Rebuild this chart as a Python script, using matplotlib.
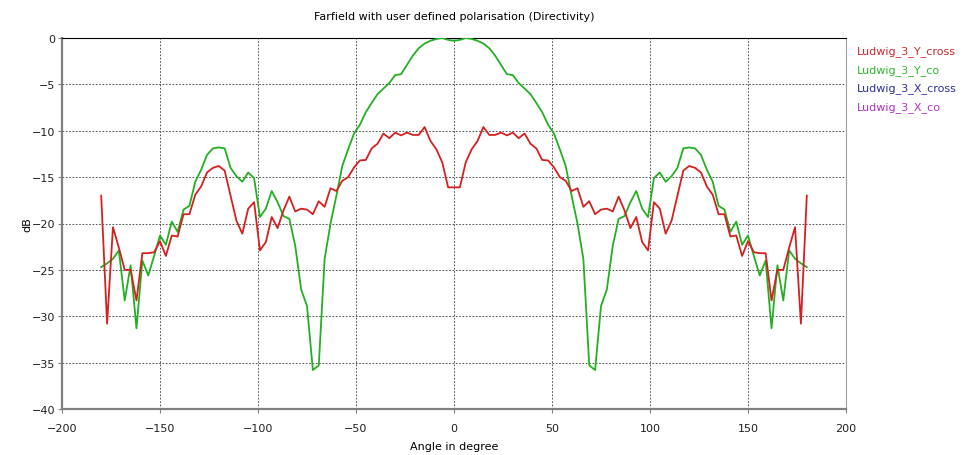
import numpy as np
import matplotlib
matplotlib.use("Agg")
import matplotlib.pyplot as plt

angles = np.arange(-180, 181, 3)

ludwig_3_y_cross = [
    -17.0, -30.8, -20.4, -22.6, -25.0, -25.0, -28.3, -23.2, -23.2, -23.1,
    -21.9, -23.5, -21.3, -21.4, -19.0, -19.0, -16.9, -16.0, -14.5, -14.0,
    -13.8, -14.3, -17.0, -19.7, -21.1, -18.4, -17.7, -22.9, -22.0, -19.3,
    -20.5, -18.6, -17.1, -18.7, -18.4, -18.5, -19.0, -17.6, -18.2, -16.2,
    -16.5, -15.4, -15.0, -13.95, -13.2, -13.15, -11.9, -11.4, -10.3, -10.8,
    -10.2, -10.5, -10.2, -10.45, -10.45, -9.6, -11.1, -12.0, -13.4, -16.1,
    -16.1,
    -16.1, -13.4, -12.0, -11.1, -9.6, -10.45, -10.45, -10.2, -10.5, -10.2,
    -10.8, -10.3, -11.4, -11.9, -13.15, -13.2, -13.95, -15.0, -15.4, -16.5,
    -16.2, -18.2, -17.6, -19.0, -18.5, -18.4, -18.7, -17.1, -18.6, -20.5,
    -19.3, -22.0, -22.9, -17.7, -18.4, -21.1, -19.7, -17.0, -14.3, -13.8,
    -14.0, -14.5, -16.0, -16.9, -19.0, -19.0, -21.4, -21.3, -23.5, -21.9,
    -23.1, -23.2, -23.2, -28.3, -25.0, -25.0, -22.6, -20.4, -30.8, -17.0,
]

ludwig_3_y_co = [
    -24.7, -24.3, -23.8, -22.9, -28.3, -24.5, -31.3, -24.0, -25.6, -23.5,
    -21.3, -22.3, -19.8, -20.9, -18.5, -18.1, -15.5, -14.2, -12.6, -11.9,
    -11.8, -11.9, -14.0, -14.9, -15.5, -14.5, -15.1, -19.3, -18.4, -16.5,
    -17.7, -19.2, -19.5, -22.4, -27.1, -28.9, -35.8, -35.3, -23.8, -20.0,
    -17.0, -13.8, -12.0, -10.3, -9.35, -8.0, -7.0, -6.05, -5.45, -4.85,
    -4.0, -3.9, -2.9, -1.9, -1.1, -0.6, -0.3, -0.1, 0.0, -0.2,
    -0.3,
    -0.2, 0.0, -0.1, -0.3, -0.6, -1.1, -1.9, -2.9, -3.9, -4.0,
    -4.85, -5.45, -6.05, -7.0, -8.0, -9.35, -10.3, -12.0, -13.8, -17.0,
    -20.0, -23.8, -35.3, -35.8, -28.9, -27.1, -22.4, -19.5, -19.2, -17.7,
    -16.5, -18.4, -19.3, -15.1, -14.5, -15.5, -14.9, -14.0, -11.9, -11.8,
    -11.9, -12.6, -14.2, -15.5, -18.1, -18.5, -20.9, -19.8, -22.3, -21.3,
    -23.5, -25.6, -24.0, -31.3, -24.5, -28.3, -22.9, -23.8, -24.3, -24.7,
]

legend_labels = ["Ludwig_3_Y_cross", "Ludwig_3_Y_co", "Ludwig_3_X_cross", "Ludwig_3_X_co"]
legend_colors = ["#cc2a2a", "#2fb52f", "#2f2fa0", "#b030c0"]

x_ticks = [-200, -150, -100, -50, 0, 50, 100, 150, 200]
y_ticks = [-40, -35, -30, -25, -20, -15, -10, -5, 0]

plt.rcParams['font.family'] = ['DejaVu Sans']

fig = plt.figure(figsize=(9.64, 4.56), dpi=100)
ax = fig.add_axes([62/964, 1-410/456, (846-62)/964, (410-39)/456])

ax.plot(angles, ludwig_3_y_co, color="#22b022", lw=1.3, zorder=3)
ax.plot(angles, ludwig_3_y_cross, color="#d42020", lw=1.3, zorder=4)

ax.set_xlim(-200, 200)
ax.set_ylim(-40, 0)
ax.set_xticks(x_ticks)
ax.set_yticks(y_ticks)
ax.grid(True, color="#333333", linestyle=(0, (2, 2)), linewidth=0.6)
ax.tick_params(labelsize=8, length=3, color="#808080", colors="#202020")
ax.tick_params(axis="x", pad=7)
ax.tick_params(axis="y", pad=2)
for s in ["left", "bottom"]:
    ax.spines[s].set_color("#808080")
    ax.spines[s].set_linewidth(1.6)
ax.spines["top"].set_color("black")
ax.spines["top"].set_linewidth(0.8)
ax.spines["right"].set_color("#a0a0a0")
ax.spines["right"].set_linewidth(0.8)

ax.set_xlabel("Angle in degree", fontsize=8, va="center")
ax.xaxis.set_label_coords(0.5, -(447-410)/371)
ax.set_ylabel("dB", fontsize=8, va="center")
ax.yaxis.set_label_coords((27-62)/784, 0.5)
fig.text(454/964, 1-17/456, "Farfield with user defined polarisation (Directivity)",
         ha="center", va="center", fontsize=8)

for i, (lab, col) in enumerate(zip(legend_labels, legend_colors)):
    fig.text(857/964, 1-(52+18.5*i)/456, lab, color=col, fontsize=8, ha="left", va="center")

fig.savefig("out.png", dpi=100)
